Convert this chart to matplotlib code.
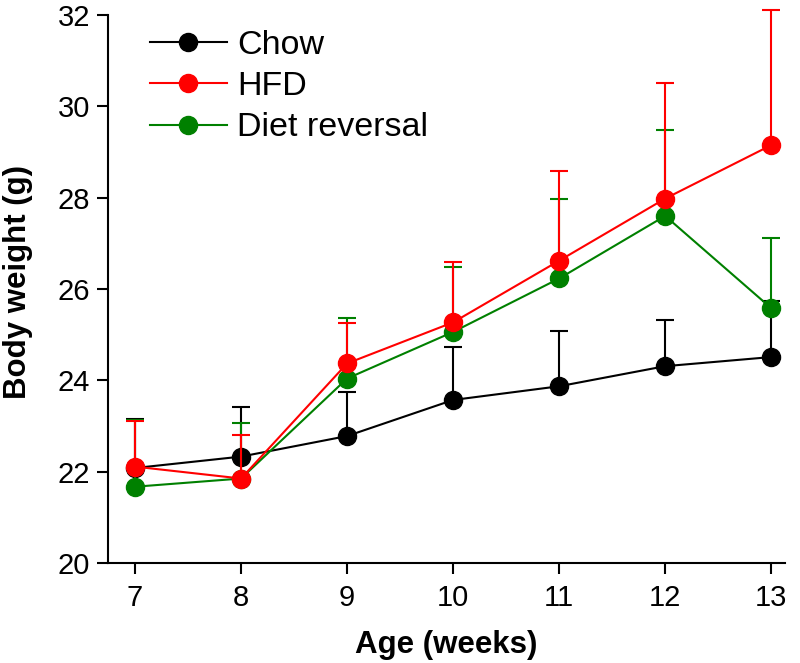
import matplotlib
matplotlib.use("Agg")
import matplotlib.pyplot as plt
from matplotlib.lines import Line2D
import numpy as np

plt.rcParams['font.family'] = ['Liberation Sans', 'DejaVu Sans']

weeks = [7, 8, 9, 10, 11, 12, 13]
chow = [22.08, 22.33, 22.78, 23.57, 23.87, 24.31, 24.51]
chow_err = [1.07, 1.08, 0.97, 1.15, 1.20, 1.01, 1.23]
hfd = [22.11, 21.85, 24.37, 25.27, 26.62, 27.98, 29.15]
hfd_err = [0.99, 0.96, 0.88, 1.33, 1.97, 2.53, 2.95]
rev = [21.67, 21.85, 24.04, 25.06, 26.23, 27.60, 25.58]
rev_err = [1.47, 1.22, 1.32, 1.42, 1.73, 1.88, 1.54]
yticks = [20, 22, 24, 26, 28, 30, 32]

fig = plt.figure(figsize=(8, 6.63), dpi=100)
ax = fig.add_axes([108/800, 1-563/663, (785-108)/800, (563-15)/663])

series = [("Chow", chow, chow_err, "black"),
          ("Diet reversal", rev, rev_err, "#008000"),
          ("HFD", hfd, hfd_err, "#ff0000")]
handles = {}
for i, (name, y, e, c) in enumerate(series):
    z = 3 + i
    cont = ax.errorbar(weeks, y, yerr=[np.zeros(len(e)), e], color=c, lw=1.5,
                       marker='o', markersize=13, capsize=6.5, capthick=1.5,
                       elinewidth=1.5, zorder=z)
    data_line, caps, bars = cont.lines
    for a in [data_line, *caps, *bars]:
        if a is not None:
            a.set_clip_on(False)
    handles[name] = Line2D([], [], color=c, lw=1.5, marker='o', markersize=13)

ax.set_xlim(6.745, 13.13)
ax.set_ylim(20, 32)
ax.set_xticks(weeks)
ax.set_yticks(yticks)
for s in ['top', 'right']:
    ax.spines[s].set_visible(False)
for s in ['left', 'bottom']:
    ax.spines[s].set_linewidth(1.5)
ax.tick_params(direction='out', length=8, width=1.5, labelsize=21)
ax.tick_params(axis='x', pad=7)
ax.tick_params(axis='y', pad=5)
ax.set_xlabel("Age (weeks)", fontsize=22.5, fontweight='bold', labelpad=13)
ax.set_ylabel("Body weight (g)", fontsize=22.5, fontweight='bold')
ax.yaxis.set_label_coords(-0.111, 0.513)

order = ["Chow", "HFD", "Diet reversal"]
leg = ax.legend([handles[n] for n in order], order, loc='upper left',
                bbox_to_anchor=(150/800, 1-30/663), bbox_transform=fig.transFigure,
                frameon=False, fontsize=24.5, handlelength=2.26, handletextpad=0.3,
                labelspacing=0.3, borderpad=0, borderaxespad=0)

fig.savefig("out.png", dpi=100)
